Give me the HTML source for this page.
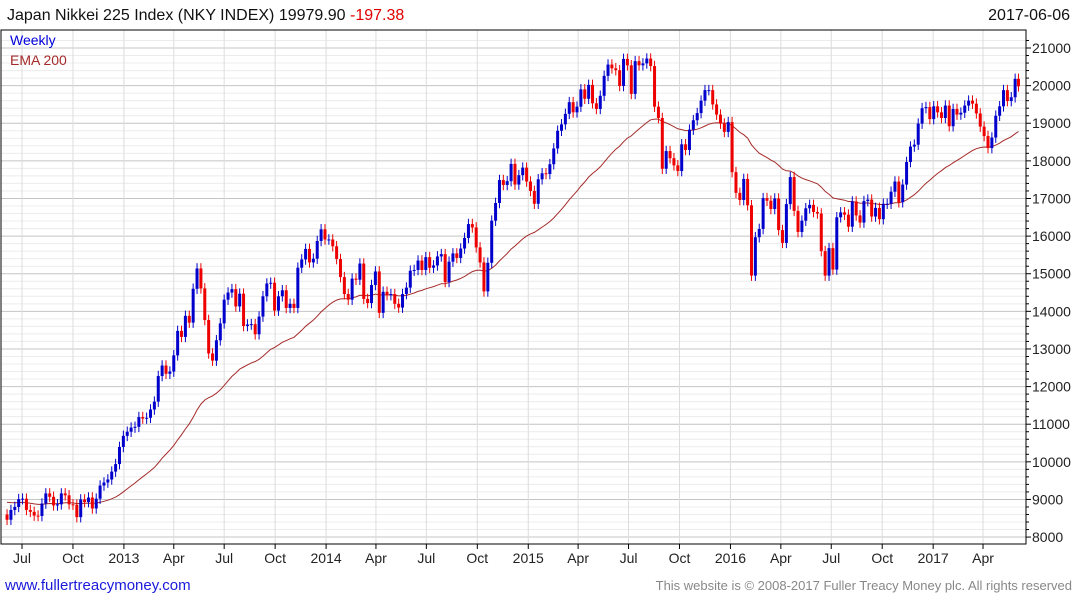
<!DOCTYPE html>
<html><head><meta charset="utf-8"><style>
body{margin:0;background:#fff;}
svg{display:block;font-family:"Liberation Sans",sans-serif;}
</style></head><body>
<svg id="chart" width="1075" height="600" xmlns="http://www.w3.org/2000/svg">
<g id="grid"></g>
<g id="ema"></g>
<g id="candles"></g>
<g id="axes"></g>
<text x="7" y="20" font-size="16" fill="#111">Japan Nikkei 225 Index (NKY INDEX) 19979.90 <tspan fill="#e00000">-197.38</tspan></text>
<text x="1070" y="20" font-size="16" fill="#111" text-anchor="end">2017-06-06</text>
<text x="10" y="45" font-size="14" fill="#0000dd">Weekly</text>
<text x="10" y="65" font-size="14" fill="#a52a2a">EMA 200</text>
<text x="5" y="590" font-size="15" fill="#1a1adb">www.fullertreacymoney.com</text>
<text x="1072" y="590" font-size="13" fill="#888" text-anchor="end">This website is © 2008-2017 Fuller Treacy Money plc. All rights reserved</text>
</svg>
<script>
const closes = [
8460,8720,8800,9007,9020,8720,8670,8570,8560,8890,9160,9070,8840,8870,9160,9110,8870,8860,8530,9000,8930,9050,8760,9020,9370,9450,9530,9740,9940,10395,
10690,10800,10910,10930,11190,11150,11170,11390,11600,12280,12560,12340,12400,12830,13480,13320,13880,13700,14600,15140,14610,13770,12880,12690,13230,13680,14310,14500,14590,14130,14470,13610,13650,13660,13390,13860,14400,14740,14760,14020,14400,14560,14090,14200,14090,15160,15380,15660,15300,15400,15870,16180,
15910,15910,15730,15390,14910,14460,14310,14870,14840,15270,14330,14220,14700,15060,13960,14520,14430,14460,14200,14100,14460,14630,15080,15100,15350,15100,15440,15160,15220,15460,15520,14780,15320,15540,15420,15670,15950,16320,16230,15700,15300,14530,15290,16410,16880,17490,17360,17460,17920,17370,17620,17820,
17450,17200,16860,17510,17670,17650,17910,18330,18800,18970,19250,19560,19290,19440,19900,19650,20020,19530,19380,19730,20260,20560,20460,20410,19990,20710,20540,19780,20650,20540,20590,20720,20520,19440,19140,17790,18260,18070,17880,17730,18440,18290,18830,19080,19270,19600,19880,19880,19500,19230,18990,18770,
19030,17700,17150,16960,17520,16820,14950,15970,16190,17010,16940,16720,17000,16160,15820,16850,17570,16670,16110,16410,16740,16830,16640,16600,15600,14950,15680,15110,16500,16630,16570,16250,16920,16550,16360,16930,16970,16520,16750,16450,16860,16860,17180,17450,16900,17370,17970,18380,18430,18990,19400,19430,19110,
19450,19290,19140,19470,18920,19380,19230,19280,19470,19600,19520,19260,18910,18660,18340,18620,19200,19450,19880,19590,19690,20180,19980];
const firstOpen = 8600;
const emaSeed = 8950;
const yTicks = [8000,9000,10000,11000,12000,13000,14000,15000,16000,17000,18000,19000,20000,21000];
const xTickLabels = ["Jul","Oct","2013","Apr","Jul","Oct","2014","Apr","Jul","Oct","2015","Apr","Jul","Oct","2016","Apr","Jul","Oct","2017","Apr"];
const xTickDates = ["2012-07-01","2012-10-01","2013-01-01","2013-04-01","2013-07-01","2013-10-01","2014-01-01","2014-04-01","2014-07-01","2014-10-01","2015-01-01","2015-04-01","2015-07-01","2015-10-01","2016-01-01","2016-04-01","2016-07-01","2016-10-01","2017-01-01","2017-04-01"];

const NS="http://www.w3.org/2000/svg";
const L=1,R=1026,T=30,B=544;
const t0=Date.UTC(2012,5,8), DAY=86400000;
function x(d){return 9.26+((d-t0)/DAY)*0.5539;}
function y(v){return 48+(21000-v)*0.03762;}
function mk(tag,attrs,parent){const e=document.createElementNS(NS,tag);for(const k in attrs)e.setAttribute(k,attrs[k]);parent.appendChild(e);return e;}
const grid=document.getElementById('grid'),axes=document.getElementById('axes'),cg=document.getElementById('candles'),eg=document.getElementById('ema');
for(let v=8000;v<=21200;v+=200){
  const yy=y(v); if(yy<T||yy>B)continue;
  const ln=mk('line',{x1:L,x2:R,y1:yy,y2:yy,stroke:(v%1000===0)?'#c4c4c4':'#ececec','stroke-width':1},grid);
  
  
  const tk=mk('line',{x1:R,x2:R+((v%1000===0)?5:3),y1:yy,y2:yy,stroke:'#000'},axes);
  
  
}
yTicks.forEach(v=>{
  const t=mk('text',{x:R+6,y:y(v)+5,'font-size':14,fill:'#222'},axes);t.textContent=v;
  
  
});
xTickDates.forEach((ds,i)=>{
  const p=ds.split('-');const xx=x(Date.UTC(+p[0],+p[1]-1,+p[2]));
  const ln=mk('line',{x1:xx,x2:xx,y1:T,y2:B,stroke:'#dcdcdc'},grid);
  
  
  const tk=mk('line',{x1:xx,x2:xx,y1:B,y2:B+5,stroke:'#000'},axes);
  
  
  const t=mk('text',{x:xx,y:B+19,'font-size':14,fill:'#222','text-anchor':'middle'},axes);t.textContent=xTickLabels[i];
  
  
});
const fr=mk('path',{d:`M${L},${B} L${L},${T} L${R},${T} L${R},${B} Z`,fill:'none',stroke:'#000','stroke-width':1},axes);


let prev=firstOpen, ema=emaSeed, pts=[];
const alpha=2/41;
closes.forEach((c,i)=>{
  let d=t0+(i*7-4)*DAY; if(i===closes.length-1) d=t0+(i*7-5)*DAY;
  const xx=x(d), o=prev, up=c>=o, col=up?'#0000cc':'#ee0000';
  const hi=Math.max(o,c)+140, lo=Math.min(o,c)-140;
  const w=mk('line',{x1:xx,x2:xx,y1:y(hi),y2:y(lo),stroke:col,'stroke-width':1},cg);
  
  
  const top=y(Math.max(o,c)),h=Math.max(1,y(Math.min(o,c))-top);
  const b=mk('rect',{x:xx-1.5,y:top,width:3,height:h,fill:col},cg);
  
  
  ema=ema+alpha*(c-ema); pts.push(xx.toFixed(1)+','+y(ema).toFixed(1));
  prev=c;
});
const pl=mk('polyline',{points:pts.join(' '),fill:'none',stroke:'#a52a2a','stroke-width':1},eg);


</script>
</body></html>
